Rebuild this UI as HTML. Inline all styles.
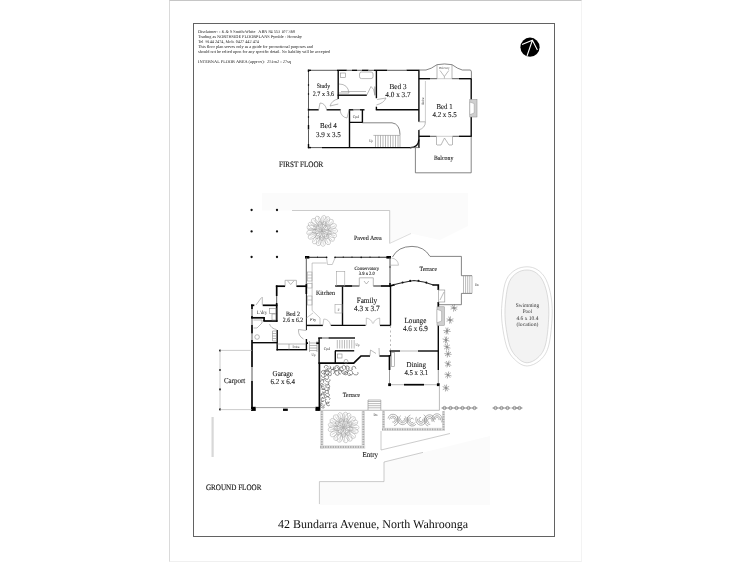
<!DOCTYPE html>
<html><head><meta charset="utf-8"><title>42 Bundarra Avenue, North Wahroonga - Floor Plan</title>
<style>
html,body{margin:0;padding:0;background:#fff;}
body{width:750px;height:562px;position:relative;overflow:hidden;font-family:"Liberation Serif",serif;}
#page{position:absolute;left:169px;top:0;width:411px;height:560px;border-left:1px solid #dadada;border-top:1px solid #c6c6c6;border-right:1px solid #f3f3f3;border-bottom:1px solid #f0f0f0;}
#frame{position:absolute;left:193px;top:23px;width:360px;height:512px;border:1px solid #626262;}
svg{position:absolute;left:0;top:0;filter:blur(.35px);}
svg path,svg rect,svg circle,svg ellipse{fill:none;stroke-linecap:butt;stroke-linejoin:miter}
.w{stroke:#0a0a0a;stroke-width:1.4}
.W{stroke:#050505;stroke-width:1.7}
.W2{stroke:#0a0a0a;stroke-width:1.4}
.w1{stroke:#111;stroke-width:1}
.m{stroke:#2a2a2a;stroke-width:1.05}
.m2{stroke:#666;stroke-width:.8}
.wn{stroke:#5a5a5a;stroke-width:1}
.tw{stroke:#888;stroke-width:.8}
.t{stroke:#8c8c8c;stroke-width:.6}
.f{stroke:#c8c8c8;stroke-width:.6}
.k{fill:#000 !important;stroke:none}
.dot{fill:#111 !important;stroke:none}
.cw{stroke:#fff;stroke-width:1.1}
.fp{fill:#cfcfcf !important;stroke:#888;stroke-width:.5}
.fpi{fill:#fff !important;stroke:#999;stroke-width:.5}
.tr{stroke:#999;stroke-width:.42}
.st{stroke:#6a6a6a;stroke-width:.55}
.hd{stroke:#666;stroke-width:.5}
.hg{stroke:#4a4a4a;stroke-width:.6}
.fn{fill:#dcdcdc !important;stroke:none}
.fnl{stroke:#a8a8a8;stroke-width:1.8}
.f2{stroke:#aaa;stroke-width:.6}
.f3{stroke:#9c9c9c;stroke-width:.55}
.shade{fill:#fbfbfb !important;stroke:none}
.fn2{fill:#d8d8d8 !important;stroke:none}
.fs{stroke:#555;stroke-width:.6}
.pool{fill:#f3f3f3 !important;stroke:#c6c6c6;stroke-width:.6}
.pl{stroke:#c6c6c6;stroke-width:.6}
.pt{text-anchor:middle;fill:#333}
text{font-family:"Liberation Serif",serif;fill:#222;text-rendering:geometricPrecision;}
.rm{text-anchor:middle;font-size:8px;fill:#111;stroke:#222;stroke-width:.1px}
.ti{text-anchor:middle;font-size:4.4px;fill:#333}
.hd1{font-size:8.2px;fill:#111;stroke:#222;stroke-width:.15px}
.addr{font-size:12px;fill:#111}
.dis{font-size:4.3px;fill:#222;white-space:pre}
</style></head>
<body>
<div id="page"></div>
<div id="frame"></div>
<svg width="750" height="562" viewBox="0 0 750 562">
<path class="shade" d="M319.4 481.6 L384 481.6 L384 462 L423 452.4 L490 436 L490 505 L319.4 505 Z"/>
<path class="shade" d="M262 193 L468 193 L468 226 L440 240 L411 233.5 L389.7 243.4 L389.7 210.5 L262 210.5 Z"/>
<path class="w" d="M307.9 70.3 L311 70.3"/>
<path class="wn" d="M311 70.3 L337 70.3"/>
<path class="w" d="M337 70.3 L346.8 70.3"/>
<path class="wn" d="M346.8 70.3 L352 70.3"/>
<path class="w" d="M352 70.3 L357 70.3"/>
<path class="wn" d="M357 70.3 L362 70.3"/>
<path class="w" d="M362 70.3 L368.5 70.3"/>
<path class="wn" d="M368.5 70.3 L374 70.3"/>
<path class="w" d="M374 70.3 L387.2 70.3"/>
<path class="wn" d="M387.2 70.3 L406.5 70.3"/>
<path class="w" d="M406.5 70.3 L419.3 70.3"/>
<path class="w" d="M308.5 69.7 L308.5 72"/>
<path class="wn" d="M308.5 72 L308.5 108.5"/>
<path class="w" d="M308.5 108.5 L308.5 110.8"/>
<path class="wn" d="M308.5 110.8 L308.5 125"/>
<path class="w" d="M308.5 125 L308.5 129.5"/>
<path class="wn" d="M308.5 129.5 L308.5 144"/>
<path class="w" d="M308.5 144 L308.5 148.2"/>
<path class="w" d="M307.9 85 L309.1 85"/>
<path class="w" d="M307.9 94 L309.1 94"/>
<path class="w" d="M307.9 117 L309.1 117"/>
<path class="w" d="M307.9 147.6 L311 147.6"/>
<path class="wn" d="M311 147.6 L322 147.6"/>
<path class="w" d="M322 147.6 L411.5 147.6"/>
<path class="w" d="M418.9 70.3 L418.9 121.8"/>
<path class="w" d="M418.9 130 L418.9 148"/>
<path class="w" d="M418.9 139.5 Q418.5 147.6 410 147.6"/>
<path class="m2" d="M410 147.6 L419 147.6"/>
<path class="w" d="M418.9 78.7 L430 78.7"/>
<path class="wn" d="M430 78.7 L437 78.7"/>
<path class="wn" d="M452 78.7 L459 78.7"/>
<path class="w" d="M459 78.7 L471.8 78.7"/>
<path class="f2" d="M437 78.7 L452 78.7"/>
<path class="w" d="M471.2 78.7 L471.2 99.5"/>
<path class="w" d="M471.2 117 L471.2 136.9"/>
<path class="w" d="M418.9 136.3 L430 136.3"/>
<path class="wn" d="M430 136.3 L436.5 136.3"/>
<path class="wn" d="M452.5 136.3 L459 136.3"/>
<path class="w" d="M459 136.3 L471.8 136.3"/>
<path class="f2" d="M436.5 136.3 L452.5 136.3"/>
<path class="w" d="M338.2 70.3 L338.2 99"/>
<path class="w" d="M376.4 70.3 L376.4 98.2"/>
<path class="w" d="M376.4 106.7 L376.4 109.7"/>
<path class="w" d="M337.6 95.2 L366.8 95.2"/>
<path class="w" d="M308.5 109.8 L318.7 109.8"/>
<path class="w" d="M326.6 109.8 L340.6 109.8"/>
<path class="w" d="M375.8 109.7 L418.9 109.7"/>
<path class="w" d="M349.5 109.2 L349.5 147.6"/>
<path class="w" d="M349.5 109.8 L353.5 109.8"/>
<path class="wn" d="M353.5 109.8 L360 109.8"/>
<path class="w" d="M360 109.8 L364.5 109.8"/>
<path class="w" d="M362.4 109.8 L362.4 122.4 L349.5 122.4"/>
<path class="m2" d="M362.4 122.8 L392 122.8 Q400 124 400 134.7"/>
<path class="t" d="M373.4 135.4 L400 135.4"/>
<path class="t" d="M375.5 135.4 L375.5 147"/>
<path class="t" d="M378 135.4 L378 147"/>
<path class="t" d="M380.5 135.4 L380.5 147"/>
<path class="t" d="M383 135.4 L383 147"/>
<path class="t" d="M385.5 135.4 L385.5 147"/>
<path class="t" d="M388 135.4 L388 147"/>
<path class="t" d="M390.5 135.4 L390.5 147"/>
<path class="t" d="M393 135.4 L393 147"/>
<path class="t" d="M395.5 135.4 L395.5 147"/>
<path class="t" d="M398 135.4 L398 147"/>
<path class="t" d="M400 134.7 L400 147"/>
<path class="t" d="M318.7 109.7 L320 103 Q325 103 326.7 109.7"/>
<path class="t" d="M338.3 99 Q332 100 330 106 L338.3 104"/>
<path class="t" d="M340 110 Q341 117 347 118 L349 110"/>
<path class="t" d="M366.8 95 L371 86.5 Q374 88 375 95"/>
<rect class="t" x="374.4" y="87" width="1" height="8"/>
<path class="t" d="M376.4 105 Q384 103 386 98 L377 99.5"/>
<path class="t" d="M418.7 121.8 L425.4 121.8 Q425.4 128 418.7 130"/>
<rect class="t" x="340.5" y="73" width="5" height="4.5"/>
<rect class="t" x="359.5" y="72" width="13.5" height="6.6" rx="2"/>
<path class="t" d="M339 84 Q348 84 349 93 L339 93"/>
<path class="t" d="M341 91.5 L366 91.5"/>
<path class="m2" d="M418.9 70 L426 70 Q431 69 437 64.7 Q444.5 63.2 452 64.7 Q458 69 462.3 70 L470 70 Q471.4 70 471.4 72 L471.4 78.7"/>
<path class="t" d="M437 64.7 L437 78.7"/>
<path class="t" d="M452 64.7 L452 78.7"/>
<path class="t" d="M440 70.5 L444.4 76.5 L448.8 70.5 M444.4 76.5 L444.4 78.5"/>
<path class="f2" d="M425.4 81 L425.4 121.8"/>
<rect class="fp" x="469.8" y="99.7" width="7.2" height="17.3"/>
<path class="fpi" d="M469.8 102 L474.2 103.6 L474.2 113 L469.8 114.7 Z"/>
<path class="m2" d="M415.4 147.6 L415.4 172.8 L471.2 172.8 L471.2 136.3"/>
<path class="t" d="M436.5 136.3 L436.5 145 M452.5 136.3 L452.5 145 M437 145 L441 145 L444.5 138 L449 145 L452 145"/>
<circle class="dot" cx="251.6" cy="210" r="1.15"/>
<circle class="dot" cx="251.6" cy="231.4" r="1.15"/>
<circle class="dot" cx="251.6" cy="257" r="1.15"/>
<circle class="dot" cx="277" cy="210" r="1.15"/>
<circle class="dot" cx="277" cy="231.4" r="1.15"/>
<circle class="dot" cx="277" cy="257" r="1.15"/>
<path class="f2" d="M292 210.5 L389.7 210.5 L389.7 243.4"/>
<path class="f" d="M389.7 243.4 L411 233.5"/>
<path class="m" d="M306.3 257.3 L326.6 257.3"/>
<path class="m" d="M335 257.3 L390 257.3"/>
<rect class="k" x="305" y="256" width="4.3" height="2.6"/>
<rect class="k" x="386.4" y="256" width="4.6" height="2.6"/>
<circle class="dot" cx="326.6" cy="257.3" r="0.85"/>
<circle class="dot" cx="335" cy="257.3" r="0.85"/>
<circle class="dot" cx="361.2" cy="257.3" r="0.85"/>
<path class="m" d="M317.5 256.6 L317.5 258"/>
<path class="m" d="M343.3 256.6 L343.3 258"/>
<path class="m" d="M352 256.6 L352 258"/>
<path class="m" d="M370 256.6 L370 258"/>
<path class="m" d="M379 256.6 L379 258"/>
<path class="wn" d="M306.3 257.3 L306.3 284"/>
<path class="W" d="M306.3 284 L306.3 294"/>
<path class="wn" d="M390 257.3 L390 283"/>
<path class="W" d="M390 283 L390 287"/>
<path class="m" d="M389.3 267 L390.7 267"/>
<path class="W" d="M275.85 286.2 L285.1 286.2"/>
<path class="W" d="M296.4 286.2 L306.6 286.2"/>
<path class="W" d="M276.7 285.4 L276.7 296"/>
<path class="wn" d="M276.7 296 L276.7 303"/>
<path class="W" d="M276.7 303 L276.7 321.8"/>
<path class="W2" d="M277.2 330 L277.2 350.4"/>
<path class="W2" d="M276.5 349.7 L307.1 349.7"/>
<path class="w1" d="M306.4 294 L306.4 330"/>
<path class="W2" d="M306.4 339 L306.4 349.7"/>
<path class="t" d="M285.1 286 L285.1 280.3 L296.4 280.3 L296.4 286 M287.5 280.8 L290.7 284.5 L294 280.8"/>
<path class="W" d="M251 305.3 L254.3 305.3"/>
<path class="W" d="M262.7 305.3 L277.5 305.3"/>
<path class="W" d="M252 304.5 L252 309"/>
<path class="wn" d="M252 309 L252 316"/>
<path class="W" d="M252 316 L252 318.5"/>
<path class="wn" d="M252 318.5 L252 325"/>
<path class="W" d="M252 325 L252 333.5"/>
<path class="wn" d="M252 333.5 L252 340"/>
<path class="W" d="M252 340 L252 367"/>
<path class="wn" d="M252 367 L252 381"/>
<path class="W" d="M252 381 L252 410.7"/>
<path class="W" d="M251.2 317.8 L264.1 317.8"/>
<path class="W" d="M264.1 317 L264.1 321"/>
<path class="W" d="M263.3 321 L277.5 321"/>
<path class="W2" d="M252 342.7 L277.2 342.7"/>
<path class="t" d="M262.3 305 L262.3 297 M256 305 L261.5 297.5"/>
<rect class="t" x="269.5" y="308.6" width="6.5" height="5"/>
<rect class="t" x="272" y="314" width="4" height="6"/>
<path class="t" d="M253.5 320 L262 320 L262 323 L257 328 L253.5 328"/>
<circle class="t" cx="257.1" cy="337" r="2.3"/>
<path class="t" d="M269.5 324 Q271 328.5 276.7 329.6"/>
<path class="t" d="M272.5 331 L276.5 331"/>
<path class="t" d="M272.5 333.5 L276.5 333.5"/>
<path class="t" d="M272.5 336 L276.5 336"/>
<path class="t" d="M272.5 338.5 L276.5 338.5"/>
<path class="t" d="M272.5 341 L276.5 341"/>
<path class="t" d="M272.5 331 L272.5 341"/>
<path class="t" d="M277.2 344 L306 344"/>
<path class="t" d="M289 344 L289 349.7"/>
<path class="t" d="M306.4 330.5 L298.5 329.5 Q298 336 303.5 339"/>
<path class="w" d="M306.4 325.4 L322.9 325.4"/>
<path class="w" d="M330.8 325.4 L365.6 325.4"/>
<path class="w" d="M380 325.4 L390.5 325.4"/>
<path class="w" d="M342.5 286 L342.5 325.4"/>
<path class="W" d="M335.3 286 L352.3 286"/>
<path class="m" d="M352.3 286 L359.4 286"/>
<path class="m" d="M373.3 286 L380.8 286"/>
<path class="W" d="M380.8 286 L390.6 286"/>
<path class="W2" d="M390.5 286 L390.5 325.4"/>
<path class="t" stroke-dasharray="2 2.5" d="M390.5 326 L390.5 351"/>
<path class="m" d="M390.5 351 L390.5 356"/>
<path class="t" d="M359.3 286 L359.3 277.8 L373.3 277.8 L373.3 286"/>
<path class="t" d="M364 281 L366.4 284 L368.8 281"/>
<path class="f3" d="M312.1 263 L312.1 310.4 L320 318 L320 325"/>
<path class="f3" d="M312.1 263 L326.6 263"/>
<rect class="f3" x="336.4" y="271.5" width="8.4" height="14.5"/>
<rect class="f3" x="335" y="304.4" width="7" height="8.6"/>
<rect class="f3" x="307.5" y="272" width="4.5" height="9"/>
<path class="f3" d="M307.5 275 L312 275"/>
<path class="f3" d="M307.5 278 L312 278"/>
<rect class="f3" x="307.5" y="283.5" width="4.5" height="4.5"/>
<rect class="f3" x="307.5" y="296" width="4.5" height="9"/>
<path class="f3" d="M307.5 300 L312 300"/>
<path class="f3" d="M306.4 318 L313 313"/>
<path class="f3" d="M322.9 325.4 L323.8 319 Q329 319 330.8 325.4"/>
<path class="f3" d="M326.6 258 L327.5 264.5 L332.3 264.5 L335 258"/>
<path class="f3" d="M366.3 325.4 L366.3 318 Q371.5 319 372.6 323.5 M379.7 325.4 L379.7 318 Q374.5 319 373.4 323.5"/>
<path class="f3" d="M391.5 258 Q398 259 398.5 265.2 L390 265.2"/>
<path class="m2" d="M392.5 257 Q398 246.4 412 246.4 Q424 246.4 430 256.4 L461.4 256.4 L461.4 275.7"/>
<path class="m2" d="M461.4 293.4 L461.4 304.7 L438.3 304.7"/>
<path class="m2" d="M461.4 275.7 L472 275.7"/>
<path class="m2" d="M461.4 293.4 L472 293.4"/>
<path class="t" d="M472 275.7 L472 293.4"/>
<path class="t" d="M463.5 275.7 L463.5 293.4"/>
<path class="t" d="M465.6 275.7 L465.6 293.4"/>
<path class="t" d="M467.7 275.7 L467.7 293.4"/>
<path class="t" d="M469.8 275.7 L469.8 293.4"/>
<path class="W" d="M390 286 L394.8 284.6"/>
<path class="m" d="M394.8 284.6 Q402 282.4 414 280.6 Q424 281.2 433.4 285"/>
<circle class="dot" cx="402.6" cy="282.5" r="1.05"/>
<circle class="dot" cx="410.2" cy="280.9" r="1.05"/>
<circle class="dot" cx="418.5" cy="280.8" r="1.05"/>
<circle class="dot" cx="426.3" cy="282.6" r="1.05"/>
<path class="W" d="M432.5 285 L438.3 285 L438.3 290"/>
<path class="W" d="M438.3 302 L438.3 307"/>
<path class="W2" d="M438.3 325.4 L438.3 370"/>
<path class="tw" d="M438.3 370 L438.3 384.7"/>
<rect class="t" x="438.3" y="290" width="6.5" height="12"/>
<path class="t" d="M440 300 L444 292"/>
<rect class="fp" x="437" y="306.8" width="7.3" height="18.5"/>
<path class="fpi" d="M437 309.3 L441.6 311 L441.6 321 L437 322.8 Z"/>
<path class="W2" d="M389.5 351 L400 351"/>
<path class="t" d="M400 351 L418 351"/>
<path class="W2" d="M418 351 L438.3 351"/>
<path class="W" d="M389.5 355.2 L389.5 370"/>
<path class="tw" d="M389.5 370 L389.5 384.7"/>
<path class="t" d="M389.5 384.7 L438.3 384.7"/>
<path class="W" d="M404 384.7 L424 384.7"/>
<rect class="k" x="388.2" y="383.3" width="2.8" height="2.8"/>
<rect class="k" x="436.9" y="383.3" width="2.8" height="2.8"/>
<rect class="t" x="391.5" y="352.5" width="3" height="14"/>
<path class="W2" d="M318.2 338 L322 338"/>
<path class="wn" d="M322 338 L328.5 338"/>
<path class="W2" d="M328.5 338 L355 338"/>
<path class="W2" d="M319.1 338 L319.1 363"/>
<path class="W" d="M319.4 363 L319.4 410.8"/>
<path class="w" d="M335 350.8 L354.2 350.8"/>
<path class="w" d="M335.3 350.8 L335.3 363.1"/>
<path class="W" d="M318.4 363.1 L353.7 363.1 L361 356 L370 356 M379.4 356 L390.3 356"/>
<path class="t" d="M337.3 340 L337.3 348.5"/>
<path class="t" d="M339.71 340 L339.71 348.5"/>
<path class="t" d="M342.12 340 L342.12 348.5"/>
<path class="t" d="M344.53 340 L344.53 348.5"/>
<path class="t" d="M346.94 340 L346.94 348.5"/>
<path class="t" d="M349.35 340 L349.35 348.5"/>
<path class="t" d="M351.76 340 L351.76 348.5"/>
<path class="t" d="M354.17 340 L354.17 348.5"/>
<rect class="t" x="337.5" y="354" width="4.5" height="4"/>
<circle class="t" cx="346" cy="361.3" r="1.9"/>
<path class="t" d="M370 355.8 L370.5 350 L376 353.5 M379.4 355.8 L379 348"/>
<path class="t" d="M309.5 343 L317 343"/>
<path class="t" d="M309.5 345.5 L317 345.5"/>
<path class="t" d="M309.5 348 L317 348"/>
<path class="t" d="M309.5 350.5 L317 350.5"/>
<path class="t" d="M309.5 341 L309.5 352"/>
<path class="t" d="M317 341 L317 352"/>
<path class="W" d="M316.3 343.2 L319 343.2"/>
<path class="W" d="M306.4 343.2 L308 343.2"/>
<rect class="k" x="251.15" y="406.8" width="4.6" height="4.1"/>
<rect class="k" x="283" y="408.6" width="4.8" height="2.3"/>
<rect class="k" x="315.4" y="406.8" width="4.8" height="4.1"/>
<path class="tw" d="M255.7 407.6 L315.4 407.6"/>
<circle class="dot" cx="220" cy="350.6" r="1.05"/>
<circle class="dot" cx="220" cy="370" r="1.05"/>
<circle class="dot" cx="220" cy="389.4" r="1.05"/>
<circle class="dot" cx="220" cy="409.4" r="1.05"/>
<path class="f2" d="M220 350.4 L252 350.4"/>
<path class="f2" d="M220 409.6 L252 409.6"/>
<path class="f2" d="M220 350.4 L220 409.8"/>
<path class="t" d="M319.5 410.3 L439.4 410.3"/>
<path class="t" d="M439.4 384.7 L439.4 410.3"/>
<path class="t" d="M368 401.5 L380.8 401.5"/>
<path class="t" d="M368 403.6 L380.8 403.6"/>
<path class="t" d="M368 405.7 L380.8 405.7"/>
<path class="t" d="M368 407.8 L380.8 407.8"/>
<path class="t" d="M368 400 L368 410"/>
<path class="t" d="M380.8 400 L380.8 410"/>
<path class="t" d="M368 400 L380.8 400"/>
<path class="hg" d="M324.5 406.8 A2.4 1.8 46 1 1 323.3 404.3 M329.9 404.9 A2.1 1.6 30 1 1 328.8 402.6 M324.6 404.6 A2.6 1.9 80 1 1 323.3 401.4 M329.1 401.5 A2.4 1.8 71 1 1 326.2 399.3 M324.1 400.1 A2.0 1.5 87 1 1 323.2 397.6 M326.0 399.9 A2.4 1.8 8 1 1 329.4 399.8 M320.8 396.1 A2.3 1.7 59 1 1 321.9 397.9 M328.0 393.3 A2.1 1.6 31 1 1 325.5 394.1 M321.3 395.5 A2.3 1.7 77 1 1 324.7 394.8 M327.0 389.5 A2.2 1.7 62 1 1 325.1 392.2 M321.8 390.0 A2.0 1.5 40 1 1 322.4 391.6 M327.9 387.4 A2.3 1.7 11 1 1 325.3 389.9 M325.1 387.3 A2.4 1.8 82 1 1 324.2 385.1 M327.3 384.0 A2.3 1.7 44 1 1 325.6 385.2 M324.3 386.0 A2.0 1.5 36 1 1 322.7 383.5 M328.6 382.1 A2.2 1.7 57 1 1 324.9 383.3 M320.7 382.0 A2.0 1.5 90 1 1 323.5 382.7 M329.8 379.3 A2.6 2.0 22 1 1 325.2 378.6 M324.1 377.4 A1.9 1.4 36 1 1 321.3 378.8 M325.4 376.7 A2.2 1.6 88 1 1 325.5 378.2 M323.5 372.7 A2.4 1.8 87 1 1 321.3 374.9 M329.1 374.1 A2.2 1.7 7 1 1 328.8 371.8 M325.4 373.5 A2.3 1.7 13 1 1 325.2 371.2 M325.6 372.3 A2.0 1.5 26 1 1 328.9 371.0 M325.2 368.3 A2.1 1.6 15 1 1 328.4 367.4 M324.3 372.4 A2.7 2.0 18 1 1 328.3 373.9 M329.7 366.0 A2.1 1.6 2 1 1 326.6 367.6 M329.3 371.5 A2.2 1.6 67 1 1 328.0 372.7 M333.1 366.8 A2.0 1.5 21 1 1 330.3 367.3 M331.1 372.0 A2.3 1.7 78 1 1 333.2 373.7 M336.7 366.9 A2.6 1.9 29 1 1 333.9 367.4 M338.8 372.4 A2.5 1.9 60 1 1 337.0 370.7 M335.6 369.0 A2.7 2.0 44 1 1 337.4 370.2 M340.8 374.0 A2.1 1.6 26 1 1 342.0 371.4 M343.9 368.9 A2.4 1.8 44 1 1 342.7 367.4 M345.4 371.2 A2.4 1.8 25 1 1 342.8 370.4 M343.3 369.4 A2.5 1.9 50 1 1 346.2 369.2 M346.9 374.5 A2.0 1.5 3 1 1 347.8 373.4 M348.6 370.5 A2.5 1.9 60 1 1 349.6 368.5 M350.9 374.1 A2.3 1.8 83 1 1 349.1 371.0 M352.1 368.7 A2.0 1.5 27 1 1 348.8 367.7 M351.6 370.9 A2.3 1.7 69 1 1 349.2 373.2 M352.1 369.6 A2.6 2.0 74 1 1 356.0 368.9 M357.5 372.0 A2.6 1.9 19 1 1 353.1 373.1"/>
<rect class="fn" x="320.2" y="411.3" width="3.2" height="37.7"/>
<path class="fnl" stroke-dasharray="1.2 1.3" d="M321.8 411.3 L321.8 449"/>
<rect class="fn" x="320.2" y="445.3" width="45" height="3.4"/>
<path class="fnl" stroke-dasharray="1.2 1.3" d="M320.2 447 L365.2 447"/>
<rect class="fn" x="361.6" y="411.3" width="3.4" height="34"/>
<path class="fnl" stroke-dasharray="1.2 1.3" d="M363.3 411.3 L363.3 445.3"/>
<ellipse class="tr" cx="354.2" cy="427.5" rx="4.8" ry="2.6" transform="rotate(0 354.2 427.5)"/>
<ellipse class="tr" cx="353.7" cy="430.7" rx="4.8" ry="2.6" transform="rotate(17 353.7 430.7)"/>
<ellipse class="tr" cx="351.5" cy="434.6" rx="4.8" ry="2.6" transform="rotate(42 351.5 434.6)"/>
<ellipse class="tr" cx="348.7" cy="436.9" rx="4.8" ry="2.6" transform="rotate(61 348.7 436.9)"/>
<ellipse class="tr" cx="345.2" cy="438.1" rx="4.8" ry="2.6" transform="rotate(81 345.2 438.1)"/>
<ellipse class="tr" cx="340.1" cy="437.7" rx="4.8" ry="2.6" transform="rotate(108 340.1 437.7)"/>
<ellipse class="tr" cx="337.5" cy="436.3" rx="4.8" ry="2.6" transform="rotate(124 337.5 436.3)"/>
<ellipse class="tr" cx="334.4" cy="433.2" rx="4.8" ry="2.6" transform="rotate(148 334.4 433.2)"/>
<ellipse class="tr" cx="332.9" cy="429.1" rx="4.8" ry="2.6" transform="rotate(171 332.9 429.1)"/>
<ellipse class="tr" cx="333.0" cy="425.5" rx="4.8" ry="2.6" transform="rotate(191 333.0 425.5)"/>
<ellipse class="tr" cx="334.3" cy="422.1" rx="4.8" ry="2.6" transform="rotate(210 334.3 422.1)"/>
<ellipse class="tr" cx="337.1" cy="418.9" rx="4.8" ry="2.6" transform="rotate(233 337.1 418.9)"/>
<ellipse class="tr" cx="340.7" cy="417.2" rx="4.8" ry="2.6" transform="rotate(255 340.7 417.2)"/>
<ellipse class="tr" cx="344.9" cy="416.9" rx="4.8" ry="2.6" transform="rotate(278 344.9 416.9)"/>
<ellipse class="tr" cx="347.7" cy="417.7" rx="4.8" ry="2.6" transform="rotate(293 347.7 417.7)"/>
<ellipse class="tr" cx="351.5" cy="420.4" rx="4.8" ry="2.6" transform="rotate(318 351.5 420.4)"/>
<ellipse class="tr" cx="353.3" cy="423.3" rx="4.8" ry="2.6" transform="rotate(337 353.3 423.3)"/>
<ellipse class="tr" cx="348.5" cy="428.4" rx="4.6" ry="2.3" transform="rotate(10 348.5 428.4)"/>
<ellipse class="tr" cx="346.5" cy="431.6" rx="4.6" ry="2.3" transform="rotate(54 346.5 431.6)"/>
<ellipse class="tr" cx="343.4" cy="432.6" rx="4.6" ry="2.3" transform="rotate(91 343.4 432.6)"/>
<ellipse class="tr" cx="340.1" cy="431.3" rx="4.6" ry="2.3" transform="rotate(132 340.1 431.3)"/>
<ellipse class="tr" cx="338.4" cy="428.1" rx="4.6" ry="2.3" transform="rotate(173 338.4 428.1)"/>
<ellipse class="tr" cx="339.3" cy="424.6" rx="4.6" ry="2.3" transform="rotate(215 339.3 424.6)"/>
<ellipse class="tr" cx="341.8" cy="422.7" rx="4.6" ry="2.3" transform="rotate(251 341.8 422.7)"/>
<ellipse class="tr" cx="345.4" cy="422.8" rx="4.6" ry="2.3" transform="rotate(292 345.4 422.8)"/>
<ellipse class="tr" cx="348.0" cy="425.1" rx="4.6" ry="2.3" transform="rotate(331 348.0 425.1)"/>
<path class="tr" d="M345.8 427.5 L357.4 427.5 M345.7 428.3 L356.5 432.5 M345.2 429.1 L353.8 436.9 M344.5 429.6 L349.7 440.0 M343.7 429.8 L344.8 441.4 M342.9 429.7 L339.7 440.9 M342.1 429.4 L335.1 438.6 M341.5 428.7 L331.6 434.8 M341.2 427.9 L329.8 430.1 M341.2 427.1 L329.8 424.9 M341.5 426.3 L331.6 420.2 M342.1 425.6 L335.1 416.4 M342.9 425.3 L339.7 414.1 M343.7 425.2 L344.8 413.6 M344.5 425.4 L349.7 415.0 M345.2 425.9 L353.8 418.1 M345.7 426.7 L356.5 422.5"/>
<rect class="fn" x="382" y="411.3" width="3" height="19.5"/>
<path class="fnl" stroke-dasharray="1.2 1.3" d="M383.5 411.3 L383.5 430.8"/>
<rect class="fn" x="382" y="427.8" width="63" height="3.2"/>
<path class="fnl" stroke-dasharray="1.2 1.3" d="M382 429.4 L445 429.4"/>
<rect class="fn" x="442" y="411.3" width="3" height="19.5"/>
<path class="fnl" stroke-dasharray="1.2 1.3" d="M443.5 411.3 L443.5 430.8"/>
<path class="hd" d="M388.0 418.5 A5.2 5.7 0 1 1 394.1 425.6 M389.5 419.6 A3.5 3.9 0 1 1 394.2 423.7 M391.3 418.9 A2.0 2.2 0 1 1 392.3 422.0"/>
<path class="hd" d="M407.4 417.1 A5.2 5.7 0 1 1 397.9 416.3 M405.2 416.4 A3.5 3.9 0 1 1 400.8 415.6 M404.3 418.1 A2.0 2.2 0 1 1 400.6 418.5"/>
<path class="hd" d="M416.0 424.2 A5.2 5.7 0 1 1 410.4 415.0 M415.1 422.4 A3.5 3.9 0 1 1 410.3 417.1 M413.2 422.2 A2.0 2.2 0 1 1 413.6 419.2"/>
<path class="hd" d="M423.8 414.7 A5.2 5.7 0 1 1 416.4 416.9 M424.1 417.7 A3.5 3.9 0 1 1 417.5 418.8 M422.9 418.9 A2.0 2.2 0 1 1 421.0 417.3"/>
<path class="hd" d="M428.2 426.0 A5.2 5.7 0 1 1 434.5 418.8 M430.2 424.3 A3.5 3.9 0 1 1 433.0 420.8 M429.2 422.7 A2.0 2.2 0 1 1 431.0 419.0"/>
<path class="hd" d="M432.2 421.8 A5.2 5.7 0 1 1 441.5 422.3 M434.4 422.1 A3.5 3.9 0 1 1 440.5 420.2 M435.1 420.0 A2.0 2.2 0 1 1 438.9 420.1"/>
<ellipse class="tr" cx="332.7" cy="230.9" rx="4.8" ry="2.6" transform="rotate(0 332.7 230.9)"/>
<ellipse class="tr" cx="332.0" cy="234.6" rx="4.8" ry="2.6" transform="rotate(21 332.0 234.6)"/>
<ellipse class="tr" cx="330.4" cy="237.5" rx="4.8" ry="2.6" transform="rotate(38 330.4 237.5)"/>
<ellipse class="tr" cx="327.0" cy="240.3" rx="4.8" ry="2.6" transform="rotate(62 327.0 240.3)"/>
<ellipse class="tr" cx="322.8" cy="241.5" rx="4.8" ry="2.6" transform="rotate(86 322.8 241.5)"/>
<ellipse class="tr" cx="319.1" cy="241.1" rx="4.8" ry="2.6" transform="rotate(106 319.1 241.1)"/>
<ellipse class="tr" cx="316.1" cy="239.7" rx="4.8" ry="2.6" transform="rotate(124 316.1 239.7)"/>
<ellipse class="tr" cx="312.5" cy="235.8" rx="4.8" ry="2.6" transform="rotate(152 312.5 235.8)"/>
<ellipse class="tr" cx="311.4" cy="232.3" rx="4.8" ry="2.6" transform="rotate(172 311.4 232.3)"/>
<ellipse class="tr" cx="311.6" cy="228.1" rx="4.8" ry="2.6" transform="rotate(194 311.6 228.1)"/>
<ellipse class="tr" cx="312.6" cy="225.7" rx="4.8" ry="2.6" transform="rotate(209 312.6 225.7)"/>
<ellipse class="tr" cx="315.3" cy="222.5" rx="4.8" ry="2.6" transform="rotate(231 315.3 222.5)"/>
<ellipse class="tr" cx="318.4" cy="220.7" rx="4.8" ry="2.6" transform="rotate(250 318.4 220.7)"/>
<ellipse class="tr" cx="323.4" cy="220.2" rx="4.8" ry="2.6" transform="rotate(278 323.4 220.2)"/>
<ellipse class="tr" cx="326.5" cy="221.1" rx="4.8" ry="2.6" transform="rotate(295 326.5 221.1)"/>
<ellipse class="tr" cx="329.5" cy="223.2" rx="4.8" ry="2.6" transform="rotate(315 329.5 223.2)"/>
<ellipse class="tr" cx="331.9" cy="226.8" rx="4.8" ry="2.6" transform="rotate(338 331.9 226.8)"/>
<ellipse class="tr" cx="326.9" cy="232.1" rx="4.6" ry="2.3" transform="rotate(15 326.9 232.1)"/>
<ellipse class="tr" cx="325.0" cy="234.9" rx="4.6" ry="2.3" transform="rotate(54 325.0 234.9)"/>
<ellipse class="tr" cx="322.0" cy="235.9" rx="4.6" ry="2.3" transform="rotate(89 322.0 235.9)"/>
<ellipse class="tr" cx="318.8" cy="234.8" rx="4.6" ry="2.3" transform="rotate(129 318.8 234.8)"/>
<ellipse class="tr" cx="316.9" cy="231.3" rx="4.6" ry="2.3" transform="rotate(175 316.9 231.3)"/>
<ellipse class="tr" cx="317.7" cy="228.1" rx="4.6" ry="2.3" transform="rotate(212 317.7 228.1)"/>
<ellipse class="tr" cx="320.5" cy="225.9" rx="4.6" ry="2.3" transform="rotate(253 320.5 225.9)"/>
<ellipse class="tr" cx="323.6" cy="225.9" rx="4.6" ry="2.3" transform="rotate(288 323.6 225.9)"/>
<ellipse class="tr" cx="326.3" cy="228.1" rx="4.6" ry="2.3" transform="rotate(328 326.3 228.1)"/>
<path class="tr" d="M324.3 230.8 L335.9 230.8 M324.2 231.6 L335.0 235.8 M323.7 232.4 L332.3 240.2 M323.0 232.9 L328.2 243.3 M322.2 233.1 L323.3 244.7 M321.4 233.0 L318.2 244.2 M320.6 232.7 L313.6 241.9 M320.0 232.0 L310.1 238.1 M319.7 231.2 L308.3 233.4 M319.7 230.4 L308.3 228.2 M320.0 229.6 L310.1 223.5 M320.6 228.9 L313.6 219.7 M321.4 228.6 L318.2 217.4 M322.2 228.5 L323.3 216.9 M323.0 228.7 L328.2 218.3 M323.7 229.2 L332.3 221.4 M324.2 230.0 L335.0 225.8"/>
<path class="f2" d="M381 431 L381 450 L450 433.5"/>
<path class="f2" d="M423 452.4 L384 462 L384 481.6 L319.4 481.6 L319.4 504"/>
<path class="st" d="M450.7 306.7 L457.3 309.3 M452.2 304.9 L455.8 311.1 M454.5 304.4 L453.5 311.6 M457.4 306.9 L450.6 309.1"/>
<path class="st" d="M446.6 318.8 L453.4 321.2 M448.7 316.6 L451.3 323.4 M450.5 316.4 L449.5 323.6 M453.4 318.8 L446.6 321.2"/>
<path class="st" d="M443.4 330.5 L450.6 331.5 M445.8 327.6 L448.2 334.4 M448.0 327.5 L446.0 334.5 M450.1 329.1 L443.9 332.9"/>
<path class="st" d="M442.6 338.9 L449.4 341.1 M444.9 336.6 L447.1 343.4 M446.7 336.5 L445.3 343.5 M448.9 337.9 L443.1 342.1"/>
<path class="st" d="M443.6 345.9 L450.4 348.1 M445.0 344.0 L449.0 350.0 M447.5 343.4 L446.5 350.6 M449.9 344.9 L444.1 349.1"/>
<path class="st" d="M444.4 353.6 L451.6 354.4 M446.0 351.0 L450.0 357.0 M448.8 350.5 L447.2 357.5 M451.0 352.1 L445.0 355.9"/>
<path class="st" d="M444.7 362.6 L451.3 365.4 M446.1 361.0 L449.9 367.0 M449.1 360.6 L446.9 367.4 M450.9 361.9 L445.1 366.1"/>
<path class="st" d="M444.5 374.1 L451.5 375.9 M445.7 372.2 L450.3 377.8 M448.7 371.5 L447.3 378.5 M450.8 372.7 L445.2 377.3"/>
<path class="st" d="M442.7 386.6 L449.3 389.4 M444.4 384.8 L447.6 391.2 M446.6 384.5 L445.4 391.5 M449.2 386.3 L442.8 389.7"/>
<circle class="fs" cx="444.5" cy="408" r="1.6"/>
<path class="fs" d="M441.5 408 L447.5 408"/>
<circle class="fs" cx="450.5" cy="408" r="1.6"/>
<path class="fs" d="M447.5 408 L453.5 408"/>
<circle class="fs" cx="456.5" cy="408" r="1.6"/>
<path class="fs" d="M453.5 408 L459.5 408"/>
<circle class="fs" cx="462.5" cy="408" r="1.6"/>
<path class="fs" d="M459.5 408 L465.5 408"/>
<circle class="fs" cx="468.5" cy="408" r="1.6"/>
<path class="fs" d="M465.5 408 L471.5 408"/>
<circle class="fs" cx="474.5" cy="408" r="1.6"/>
<path class="fs" d="M471.5 408 L477.5 408"/>
<circle class="fs" cx="495.5" cy="408" r="1.6"/>
<path class="fs" d="M492.5 408 L498.5 408"/>
<circle class="fs" cx="501.5" cy="408" r="1.6"/>
<path class="fs" d="M498.5 408 L504.5 408"/>
<circle class="fs" cx="507.5" cy="408" r="1.6"/>
<path class="fs" d="M504.5 408 L510.5 408"/>
<circle class="fs" cx="514.5" cy="408" r="1.6"/>
<path class="fs" d="M511.5 408 L517.5 408"/>
<circle class="fs" cx="519.5" cy="408" r="1.6"/>
<path class="fs" d="M516.5 408 L522.5 408"/>
<rect class="fn2" x="211.5" y="417" width="2.2" height="40"/>
<path class="pool" d="M527.0 270.0 C530.2 270.0 533.3 270.8 536.1 272.8 C538.8 274.8 541.4 277.5 543.4 281.9 C545.4 286.3 547.2 292.9 548.0 299.2 C548.9 305.5 549.1 312.1 548.6 319.8 C548.2 327.4 547.2 338.7 545.4 345.0 C543.7 351.3 541.3 354.5 538.2 357.4 C535.2 360.4 530.5 362.8 527.0 362.8 C523.5 362.8 520.0 360.4 517.1 357.4 C514.1 354.5 511.5 351.3 509.5 345.0 C507.6 338.7 505.8 327.4 505.2 319.8 C504.6 312.1 505.1 305.5 505.8 299.2 C506.5 292.9 507.4 286.3 509.3 281.9 C511.1 277.5 514.1 274.8 517.1 272.8 C520.0 270.8 523.8 270.0 527.0 270.0 Z"/>
<path class="pl" d="M527.0 266.8 C530.7 266.8 534.3 267.7 537.5 269.8 C540.7 271.9 543.7 274.8 546.0 279.5 C548.3 284.2 550.3 291.2 551.3 298.0 C552.3 304.8 552.5 311.8 552.0 320.0 C551.5 328.2 550.3 340.3 548.3 347.0 C546.3 353.7 543.5 357.1 540.0 360.3 C536.5 363.5 531.1 366.0 527.0 366.0 C522.9 366.0 518.9 363.5 515.5 360.3 C512.1 357.1 509.1 353.7 506.8 347.0 C504.5 340.3 502.5 328.2 501.8 320.0 C501.1 311.8 501.7 304.8 502.5 298.0 C503.3 291.2 504.3 284.2 506.5 279.5 C508.7 274.8 512.1 271.9 515.5 269.8 C518.9 267.7 523.3 266.8 527.0 266.8 Z"/>
<text class="rm" x="323.4" y="88.3" textLength="13.3" lengthAdjust="spacingAndGlyphs" style="font-size:6.7px">Study</text>
<text class="rm" x="323.4" y="95.5" textLength="21.3" lengthAdjust="spacingAndGlyphs" style="font-size:6.7px">2.7 x 3.6</text>
<text class="rm" x="398" y="88.8" textLength="17" lengthAdjust="spacingAndGlyphs" style="font-size:7.67px">Bed 3</text>
<text class="rm" x="398" y="96.8" textLength="25.3" lengthAdjust="spacingAndGlyphs" style="font-size:7.67px">4.0 x 3.7</text>
<text class="rm" x="444.6" y="108.8" textLength="16" lengthAdjust="spacingAndGlyphs" style="font-size:7.56px">Bed 1</text>
<text class="rm" x="444.6" y="116.8" textLength="24.3" lengthAdjust="spacingAndGlyphs" style="font-size:7.56px">4.2 x 5.5</text>
<text class="rm" x="328.4" y="128.3" textLength="16.7" lengthAdjust="spacingAndGlyphs" style="font-size:7.56px">Bed 4</text>
<text class="rm" x="328.4" y="136.7" textLength="24.7" lengthAdjust="spacingAndGlyphs" style="font-size:7.56px">3.9 x 3.5</text>
<text class="rm" x="443.6" y="160.2" textLength="19.4" lengthAdjust="spacingAndGlyphs" style="font-size:6.48px">Balcony</text>
<text class="rm" x="293" y="315.5" textLength="14" lengthAdjust="spacingAndGlyphs" style="font-size:6.48px">Bed 2</text>
<text class="rm" x="293" y="322.4" textLength="20.4" lengthAdjust="spacingAndGlyphs" style="font-size:6.48px">2.6 x 6.2</text>
<text class="rm" x="325.5" y="295" textLength="19" lengthAdjust="spacingAndGlyphs" style="font-size:6.59px">Kitchen</text>
<text class="rm" x="366.9" y="302.8" textLength="20.5" lengthAdjust="spacingAndGlyphs" style="font-size:7.88px">Family</text>
<text class="rm" x="366.9" y="311" textLength="25.7" lengthAdjust="spacingAndGlyphs" style="font-size:7.88px">4.3 x 3.7</text>
<text class="rm" x="415.4" y="322.8" textLength="22" lengthAdjust="spacingAndGlyphs" style="font-size:7.78px">Lounge</text>
<text class="rm" x="415.4" y="330.6" textLength="24.8" lengthAdjust="spacingAndGlyphs" style="font-size:7.78px">4.6 x 6.9</text>
<text class="rm" x="416.3" y="366.8" textLength="19.4" lengthAdjust="spacingAndGlyphs" style="font-size:7.56px">Dining</text>
<text class="rm" x="416.3" y="374.9" textLength="23.8" lengthAdjust="spacingAndGlyphs" style="font-size:7.56px">4.5 x 3.1</text>
<text class="rm" x="282.8" y="375.8" textLength="20.4" lengthAdjust="spacingAndGlyphs" style="font-size:7.56px">Garage</text>
<text class="rm" x="282.8" y="384.4" textLength="24.4" lengthAdjust="spacingAndGlyphs" style="font-size:7.56px">6.2 x 6.4</text>
<text class="rm" x="234.6" y="383" textLength="21.4" lengthAdjust="spacingAndGlyphs" style="font-size:7.56px">Carport</text>
<text class="rm" x="428.3" y="270.8" textLength="17.4" lengthAdjust="spacingAndGlyphs" style="font-size:6.37px">Terrace</text>
<text class="rm" x="351.4" y="397" textLength="17.4" lengthAdjust="spacingAndGlyphs" style="font-size:6.37px">Terrace</text>
<text class="rm" x="367.8" y="240" textLength="27.6" lengthAdjust="spacingAndGlyphs" style="font-size:6.48px">Paved Area</text>
<text class="rm" x="370.2" y="457" textLength="15.6" lengthAdjust="spacingAndGlyphs" style="font-size:7.56px">Entry</text>
<text class="rm" x="366.8" y="269.6" textLength="24.5" lengthAdjust="spacingAndGlyphs" style="font-size:4.97px">Conservatory</text>
<text class="rm" x="366.8" y="274.6" textLength="16" lengthAdjust="spacingAndGlyphs" style="font-size:4.97px">3.9 x 2.0</text>
<text class="pt" x="527.4" y="307.2" textLength="23.4" lengthAdjust="spacingAndGlyphs" style="font-size:5.6px">Swimming</text>
<text class="pt" x="527.4" y="313.4" textLength="9.4" lengthAdjust="spacingAndGlyphs" style="font-size:5.6px">Pool</text>
<text class="pt" x="527.4" y="319.6" textLength="22" lengthAdjust="spacingAndGlyphs" style="font-size:5.6px">4.6 x 10.4</text>
<text class="pt" x="527.4" y="325.8" textLength="22" lengthAdjust="spacingAndGlyphs" style="font-size:5.6px">(location)</text>
<text class="ti" x="262" y="313.7" style="font-size:5px">L'dry</text>
<text class="ti" x="313" y="321.3" >P'ty</text>
<text class="ti" x="327" y="349.8" style="font-size:3.8px">Cpd</text>
<text class="ti" x="356" y="117.5" style="font-size:3.8px">Cpd</text>
<text class="ti" x="296" y="348.3" style="font-size:3.4px">Robe</text>
<text class="ti" x="423.6" y="101" style="font-size:3.4px" transform="rotate(-90 423.6 101)">Robe</text>
<text class="ti" x="444.3" y="69.3" style="font-size:3.2px">Balcony</text>
<text class="ti" x="371" y="142.3" style="font-size:3.4px">Up</text>
<text class="ti" x="357.5" y="346.3" style="font-size:3.4px">Up</text>
<text class="ti" x="313.5" y="356" style="font-size:3.4px">Up</text>
<text class="ti" x="477" y="286.3" style="font-size:3.4px">Dn</text>
<text class="ti" x="375.5" y="416" style="font-size:3.4px">Dn</text>
<text class="ti" x="338.5" y="310.5" style="font-size:4px">F</text>
<text class="hd1" x="279" y="166.7" textLength="44.3" lengthAdjust="spacingAndGlyphs">FIRST FLOOR</text>
<text class="hd1" x="206" y="490.2" textLength="55.4" lengthAdjust="spacingAndGlyphs">GROUND FLOOR</text>
<text class="addr" x="278" y="528" textLength="190" lengthAdjust="spacingAndGlyphs">42 Bundarra Avenue, North Wahroonga</text>
<text class="dis" x="198" y="32.8" textLength="97" lengthAdjust="spacingAndGlyphs">Disclaimer: - K &amp; S Smith-White   ABN 84 553 107 368</text>
<text class="dis" x="198" y="37.75" textLength="104" lengthAdjust="spacingAndGlyphs">Trading as NORTHSIDE FLOORPLANS Pymble - Hornsby</text>
<text class="dis" x="198" y="42.7" textLength="61" lengthAdjust="spacingAndGlyphs">Tel  9144 2474, Mob. 0427 442 474</text>
<text class="dis" x="198" y="47.65" textLength="115" lengthAdjust="spacingAndGlyphs">This floor plan serves only as a guide for promotional purposes and</text>
<text class="dis" x="198" y="52.6" textLength="132" lengthAdjust="spacingAndGlyphs">should not be relied upon for any specific detail. No liability will be accepted</text>
<text class="dis" x="198" y="62.5" textLength="93" lengthAdjust="spacingAndGlyphs">INTERNAL FLOOR AREA (approx):  251m2 - 27sq</text>
<circle class="k" cx="530" cy="47.2" r="9.6"/>
<path class="cw" d="M527 56 L532.4 40.3 M522 44.6 L532.4 40.3 L537.4 50"/>
</svg>
</body></html>
